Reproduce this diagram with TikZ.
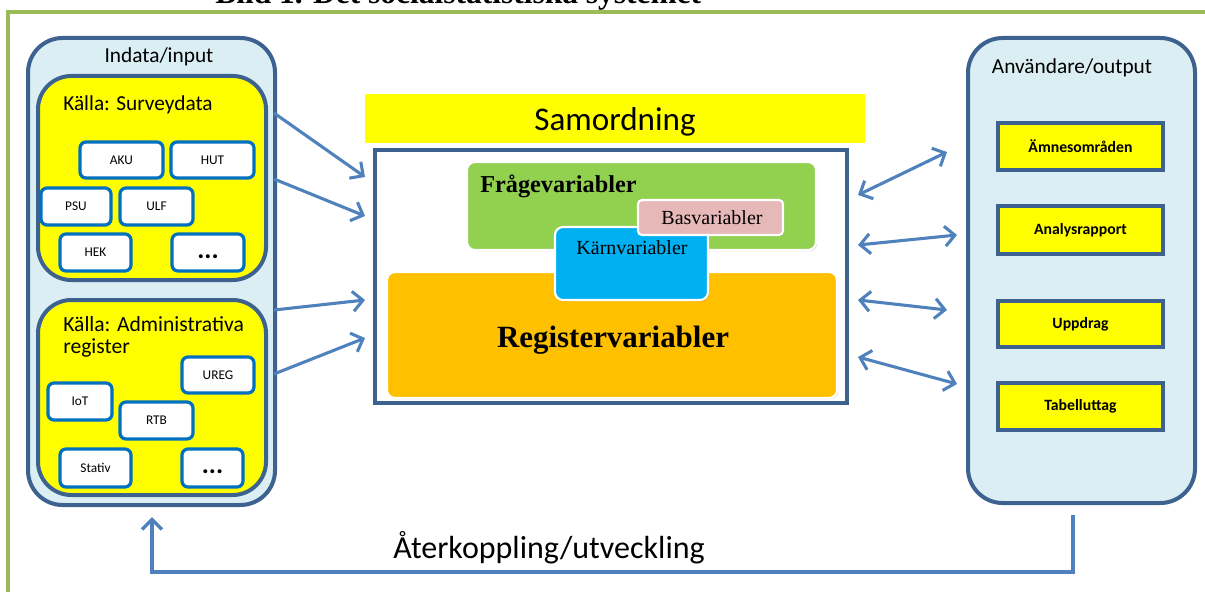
\documentclass[tikz,border=0pt]{standalone}
\usepackage{fontspec}
\setmainfont{Liberation Serif}
\newfontfamily\calfnt{Carlito}
\usetikzlibrary{fit,arrows.meta,shadows}
\definecolor{frameGreen}{HTML}{9BBB59}
\definecolor{dkblue}{HTML}{3E6290}
\definecolor{ltblue}{HTML}{DAEEF3}
\definecolor{boxblue}{HTML}{0070C0}
\definecolor{arrblue}{HTML}{4F81BD}
\definecolor{qgreen}{HTML}{92D050}
\definecolor{bpink}{HTML}{E6B9B8}
\definecolor{kcyan}{HTML}{00B0F0}
\definecolor{rorange}{HTML}{FFC000}
\definecolor{yel}{HTML}{FFFF00}
\begin{document}
\begin{tikzpicture}[x=0.75pt,y=-0.75pt,
  outerbox/.style={draw=dkblue, line width=3pt, fill=ltblue, rounded corners=26pt, inner sep=0pt},
  srcbox/.style={draw=dkblue, line width=3pt, fill=yel, rounded corners=25pt, inner sep=0pt},
  smallbox/.style={draw=boxblue, line width=2.4pt, fill=white, rounded corners=4.5pt, inner sep=0pt},
  smalltxt/.style={font=\calfnt\fontsize{10}{11}\selectfont, inner sep=0pt},
  dotstxt/.style={font=\calfnt\bfseries\fontsize{20}{20}\selectfont, inner sep=0pt, yshift=-3pt},
  outbox/.style={draw=dkblue, line width=3pt, fill=yel, inner sep=0pt},
  outtxt/.style={font=\calfnt\bfseries\fontsize{11.8}{13}\selectfont, inner sep=0pt},
  varbox/.style={draw=white, line width=1.6pt, rounded corners=6pt, inner sep=0pt, drop shadow={shadow xshift=0.9pt, shadow yshift=-0.9pt, opacity=0.35}},
  arr/.style={draw=arrblue, line width=2.3pt, -{Straight Barb[length=7.5pt,width=15pt]}},
  darr/.style={draw=arrblue, line width=2.3pt, {Straight Barb[length=7.5pt,width=15pt]}-{Straight Barb[length=7.5pt,width=15pt]}},
  lbl/.style={font=\calfnt\fontsize{16}{17}\selectfont}
]
\useasboundingbox (0,0) rectangle (1205,592);
\fill[white] (0,0) rectangle (1205,592);

% frame and title
\draw[frameGreen, line width=2.4pt] (1205,12) -- (8,12) -- (8,592);
\node[anchor=base west, inner sep=0pt, font=\bfseries\fontsize{23.6}{24}\selectfont] (title) at (215,4) {Bild 1. Det socialstatistiska systemet};

% input side
\node[outerbox, fit={(28,38) (275,505)}] (inbox) {};
\node[lbl] (inlbl) at (159,57) {Indata/input};
\node[srcbox, fit={(38,76) (266,280)}] (survey) {};
\node[lbl, anchor=west, inner sep=0pt] (surveylbl) at (63,105) {Källa: Surveydata};
\node[smallbox, fit={(80,142) (163,178)}, label={[smalltxt]center:AKU}] (aku) {};
\node[smallbox, fit={(171,142) (254,178)}, label={[smalltxt]center:HUT}] (hut) {};
\node[smallbox, fit={(41,188) (111,225)}, label={[smalltxt]center:PSU}] (psu) {};
\node[smallbox, fit={(120,188) (193,225)}, label={[smalltxt]center:ULF}] (ulf) {};
\node[smallbox, fit={(60,234) (131,271)}, label={[smalltxt]center:HEK}] (hek) {};
\node[smallbox, fit={(172,234) (244,271)}, label={[dotstxt]center:...}] (dots1) {};

\node[srcbox, fit={(38,300) (266,495)}] (admin) {};
\node[anchor=north west, align=left, inner sep=0pt, font=\calfnt\fontsize{16.2}{17}\selectfont] (adminlbl) at (63,316) {Källa: Administrativa\\register};
\node[smallbox, fit={(182,357) (254,393)}, label={[smalltxt]center:UREG}] (ureg) {};
\node[smallbox, fit={(48,383) (112,420)}, label={[smalltxt]center:IoT}] (iot) {};
\node[smallbox, fit={(120,402) (193,439)}, label={[smalltxt]center:RTB}] (rtb) {};
\node[smallbox, fit={(60,449) (131,487)}, label={[smalltxt]center:Stativ}] (stativ) {};
\node[smallbox, fit={(182,449) (243,487)}, label={[dotstxt]center:...}] (dots2) {};

% centre
\node[fill=yel, inner sep=0pt, fit={(365,94) (865,143)}] (samord) {};
\node[anchor=base, inner sep=0pt, font=\calfnt\fontsize{24.8}{26}\selectfont] (samlbl) at (615,130) {Samordning};
\node[draw=dkblue, line width=2.3pt, fill=white, inner sep=0pt, fit={(375,150) (847,403)}] (core) {};
\node[varbox, fill=rorange, fit={(387,272) (837,398)}] (reg) {};
\node[font=\bfseries\fontsize{23.2}{25}\selectfont] (reglbl) at (613,340) {Registervariabler};
\node[varbox, fill=qgreen, fit={(467,162) (816,250)}] (fraga) {};
\node[anchor=west, inner sep=0pt, font=\bfseries\fontsize{18.2}{19}\selectfont] (fragalbl) at (480,186) {Frågevariabler};
\node[varbox, fill=kcyan, fit={(555,227) (708,300)}] (karn) {};
\node[font=\fontsize{15}{16}\selectfont] (karnlbl) at (632,248) {Kärnvariabler};
\node[varbox, fill=bpink, rounded corners=3pt, fit={(638,200) (783,235)}] (bas) {};
\node[font=\fontsize{15}{16}\selectfont] (baslbl) at (712,218) {Basvariabler};

% output side
\node[outerbox, fit={(968,38) (1195,503)}] (outb) {};
\node[lbl] (outlbl) at (1072,68) {Användare/output};
\node[outbox, fit={(998,123) (1163,170)}, label={[outtxt]center:Ämnesområden}] (amne) {};
\node[outbox, fit={(998,206) (1163,254)}, label={[outtxt]center:Analysrapport}] (analys) {};
\node[outbox, fit={(998,301) (1163,347)}, label={[outtxt]center:Uppdrag}] (uppdrag) {};
\node[outbox, fit={(998,383) (1163,430)}, label={[outtxt]center:Tabelluttag}] (tabell) {};

% arrow end points
\coordinate (l1s) at (274,113); \coordinate (l1e) at (365,177);
\coordinate (l2s) at (274,179); \coordinate (l2e) at (365,216);
\coordinate (l3s) at (274,310); \coordinate (l3e) at (365,300);
\coordinate (l4s) at (274,374); \coordinate (l4e) at (365,338);
\coordinate (r1s) at (858,195); \coordinate (r1e) at (947,152);
\coordinate (r2s) at (858,245); \coordinate (r2e) at (957,235);
\coordinate (r3s) at (858,300); \coordinate (r3e) at (947,310);
\coordinate (r4s) at (858,357); \coordinate (r4e) at (957,384);
\draw[arr] (l1s) -- (l1e);
\draw[arr] (l2s) -- (l2e);
\draw[arr] (l3s) -- (l3e);
\draw[arr] (l4s) -- (l4e);
\draw[darr] (r1s) -- (r1e);
\draw[darr] (r2s) -- (r2e);
\draw[darr] (r3s) -- (r3e);
\draw[darr] (r4s) -- (r4e);

% feedback
\coordinate (fbs) at (1073,515);
\coordinate (fbe) at (152,517);
\draw[arr, line width=2.6pt] (fbs) -- (1073,572) -- (152,572) -- (fbe);
\node[anchor=base, inner sep=0pt, font=\calfnt\fontsize{24}{25}\selectfont] (fblbl) at (549,558) {Återkoppling/utveckling};
\end{tikzpicture}
\end{document}
